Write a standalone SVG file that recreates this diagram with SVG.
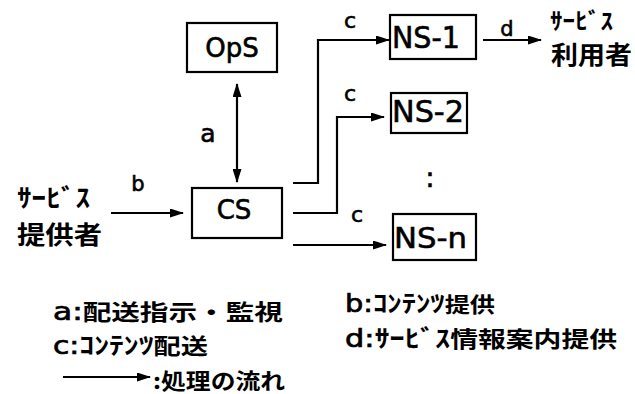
<svg xmlns="http://www.w3.org/2000/svg" width="635" height="394" viewBox="0 0 635 394">
<style>
.box{fill:#fff;stroke:#000;stroke-width:2.2}
.ln{fill:none;stroke:#000;stroke-width:2.2}
.t{font-family:"DejaVu Sans","Noto Sans CJK JP",sans-serif;fill:#000;stroke:#000;stroke-width:0.6}
.j{font-family:"Noto Sans CJK JP",sans-serif;font-weight:bold;fill:#000}
.k{font-size:24px}
.l{font-family:"DejaVu Sans",sans-serif;font-weight:normal;font-size:24px;stroke:#000;stroke-width:0.7}
</style>
<defs>
<marker id="ah" markerWidth="14" markerHeight="9" refX="13" refY="4.5" orient="auto" markerUnits="userSpaceOnUse">
<path d="M0,0 L14,4.5 L0,9 Z" fill="#000"/>
</marker>
<marker id="ahs" markerWidth="14" markerHeight="9" refX="1" refY="4.5" orient="auto" markerUnits="userSpaceOnUse">
<path d="M14,0 L0,4.5 L14,9 Z" fill="#000"/>
</marker>
</defs>
<g id="ops"><rect class="box" x="187" y="23" width="90" height="49"/><text class="t" x="232" y="57" font-size="26" text-anchor="middle">OpS</text></g>
<g id="cs"><rect class="box" x="192" y="188" width="90" height="50"/><text class="t" x="234" y="219" font-size="26" text-anchor="middle">CS</text></g>
<g id="ns1"><rect class="box" x="390" y="15" width="86" height="44"/><text class="t" x="392" y="48" font-size="30" textLength="68" lengthAdjust="spacingAndGlyphs">NS-1</text></g>
<g id="ns2"><rect class="box" x="391" y="93" width="76" height="40"/><text class="t" x="392" y="122" font-size="30" textLength="72" lengthAdjust="spacingAndGlyphs">NS-2</text></g>
<g id="nsn"><rect class="box" x="393" y="214" width="83" height="46"/><text class="t" x="394" y="248" font-size="29" textLength="73" lengthAdjust="spacingAndGlyphs">NS-n</text></g>
<g id="provider"><text class="j" x="17" y="207" font-size="25" textLength="73" lengthAdjust="spacingAndGlyphs">ｻｰﾋﾞｽ</text><text class="j" x="17" y="244" font-size="25" textLength="85" lengthAdjust="spacingAndGlyphs">提供者</text></g>
<g id="user"><text class="j" x="550" y="29" font-size="23" textLength="63" lengthAdjust="spacingAndGlyphs">ｻｰﾋﾞｽ</text><text class="j" x="551" y="64" font-size="25" textLength="81" lengthAdjust="spacingAndGlyphs">利用者</text></g>
<g id="connectors">
<line class="ln" x1="237" y1="84" x2="237" y2="182" marker-start="url(#ahs)" marker-end="url(#ah)"/>
<line class="ln" x1="111" y1="213" x2="183" y2="213" marker-end="url(#ah)"/>
<polyline class="ln" points="293,183 318,183 318,40 389,40" marker-end="url(#ah)"/>
<polyline class="ln" points="293,213 337,213 337,117 384,117" marker-end="url(#ah)"/>
<line class="ln" x1="293" y1="245" x2="386" y2="245" marker-end="url(#ah)"/>
<line class="ln" x1="483" y1="40" x2="541" y2="40" marker-end="url(#ah)"/>
</g>
<g id="labels">
<text class="t" x="208" y="142" font-size="25" text-anchor="middle">a</text>
<text class="t" x="138" y="191" font-size="21" text-anchor="middle">b</text>
<text class="t" x="350" y="28" font-size="22" text-anchor="middle">c</text>
<text class="t" x="350" y="101" font-size="22" text-anchor="middle">c</text>
<text class="t" x="357" y="222" font-size="22" text-anchor="middle">c</text>
<text class="t" x="507" y="36" font-size="21" text-anchor="middle">d</text>
<text class="t" x="430" y="187" font-size="28" text-anchor="middle">:</text>
</g>
<g id="legend">
<text class="j" x="53" y="320" font-size="22" textLength="230" lengthAdjust="spacingAndGlyphs"><tspan class="l">a:</tspan>配送指示・監視</text>
<text class="j" x="53" y="354" font-size="22" textLength="155" lengthAdjust="spacingAndGlyphs"><tspan class="l">c:</tspan><tspan class="k">ｺﾝﾃﾝﾂ</tspan>配送</text>
<text class="j" x="345" y="312" font-size="21" textLength="150" lengthAdjust="spacingAndGlyphs"><tspan class="l">b:</tspan><tspan class="k">ｺﾝﾃﾝﾂ</tspan>提供</text>
<text class="j" x="345" y="347" font-size="22" textLength="272" lengthAdjust="spacingAndGlyphs"><tspan class="l">d:</tspan><tspan class="k">ｻｰﾋﾞｽ</tspan>情報案内提供</text>
<line class="ln" x1="63" y1="377" x2="150" y2="377" marker-end="url(#ah)"/>
<text class="j" x="153" y="389" font-size="22" textLength="132" lengthAdjust="spacingAndGlyphs">:処理の流れ</text>
</g>
</svg>
